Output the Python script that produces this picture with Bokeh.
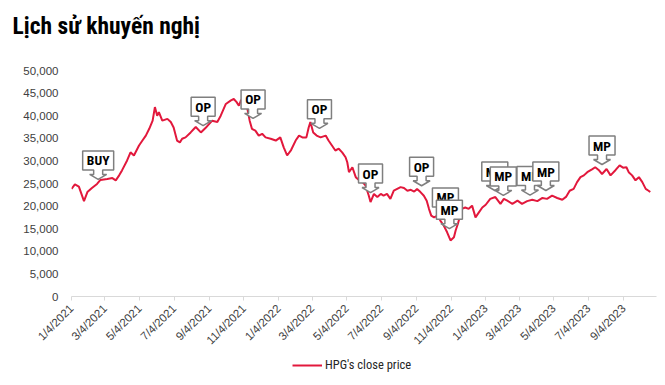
import math
import pandas as pd
from bokeh.plotting import figure
from bokeh.layouts import column
from bokeh.models import (ColumnDataSource, FixedTicker, NumeralTickFormatter, Range1d,
                          Legend, LegendItem, Title)
from bokeh.core.properties import value
from bokeh.embed import file_html
from bokeh.resources import INLINE

# ---------------- data ----------------
dates = [
    "2021-01-04", "2021-01-10", "2021-01-17", "2021-01-26", "2021-02-01", "2021-02-09",
    "2021-02-18", "2021-02-24", "2021-03-08", "2021-03-17", "2021-03-23", "2021-03-29",
    "2021-04-03", "2021-04-12", "2021-04-18", "2021-04-24", "2021-05-03", "2021-05-09",
    "2021-05-15", "2021-05-21", "2021-05-27", "2021-05-31", "2021-06-04", "2021-06-07",
    "2021-06-13", "2021-06-22", "2021-06-28", "2021-07-03", "2021-07-09", "2021-07-14",
    "2021-07-18", "2021-07-24", "2021-08-02", "2021-08-08", "2021-08-11", "2021-08-20",
    "2021-08-29", "2021-09-01", "2021-09-09", "2021-09-18", "2021-09-24", "2021-10-03",
    "2021-10-12", "2021-10-17", "2021-10-22", "2021-10-26", "2021-10-30", "2021-11-04",
    "2021-11-10", "2021-11-14", "2021-11-18", "2021-11-24", "2021-11-30", "2021-12-06",
    "2021-12-12", "2021-12-21", "2021-12-30", "2022-01-07", "2022-01-13", "2022-01-19",
    "2022-01-26", "2022-02-03", "2022-02-09", "2022-02-15", "2022-02-22", "2022-02-26",
    "2022-03-01", "2022-03-06", "2022-03-12", "2022-03-19", "2022-03-28", "2022-04-02",
    "2022-04-08", "2022-04-14", "2022-04-20", "2022-04-26", "2022-05-02", "2022-05-05",
    "2022-05-08", "2022-05-14", "2022-05-20", "2022-05-26", "2022-06-01", "2022-06-06",
    "2022-06-12", "2022-06-15", "2022-06-21", "2022-06-27", "2022-07-03", "2022-07-08",
    "2022-07-14", "2022-07-20", "2022-07-26", "2022-08-01", "2022-08-07", "2022-08-13",
    "2022-08-19", "2022-08-25", "2022-08-31", "2022-09-05", "2022-09-11", "2022-09-17",
    "2022-09-22", "2022-09-26", "2022-09-30", "2022-10-05", "2022-10-11", "2022-10-16",
    "2022-10-22", "2022-10-28", "2022-11-03", "2022-11-09", "2022-11-12", "2022-11-16",
    "2022-11-19", "2022-11-23", "2022-11-29", "2022-12-05", "2022-12-11", "2022-12-17",
    "2022-12-23", "2022-12-29", "2023-01-04", "2023-01-12", "2023-01-21", "2023-01-30",
    "2023-02-05", "2023-02-11", "2023-02-20", "2023-03-01", "2023-03-09", "2023-03-18",
    "2023-03-27", "2023-04-05", "2023-04-14", "2023-04-22", "2023-05-01", "2023-05-10",
    "2023-05-19", "2023-05-26", "2023-06-01", "2023-06-08", "2023-06-14", "2023-06-20",
    "2023-06-26", "2023-07-02", "2023-07-11", "2023-07-16", "2023-07-22", "2023-07-28",
    "2023-08-05", "2023-08-12", "2023-08-21", "2023-08-28", "2023-09-03", "2023-09-09",
    "2023-09-13", "2023-09-19", "2023-09-25", "2023-10-01", "2023-10-07", "2023-10-13",
    "2023-10-18", "2023-10-21",
]
prices = [
    23800, 24800, 24300, 21100, 23100, 24000,
    24900, 25800, 26000, 26200, 25700, 26800,
    27900, 30100, 31900, 31200, 33400, 34500,
    35600, 37100, 38900, 41900, 40000, 40800,
    38900, 39300, 38600, 37400, 34500, 34100,
    34900, 35200, 36300, 37100, 37500, 36300,
    37400, 37800, 38900, 38600, 40000, 42600,
    43400, 43700, 43000, 42200, 43500, 42600,
    41500, 38900, 37100, 36700, 35600, 36000,
    35200, 34900, 34500, 35200, 33000, 31200,
    32400, 34500, 35600, 35200, 35200, 37400,
    38600, 36300, 35600, 35200, 35600, 34500,
    33400, 32300, 32700, 31900, 30800, 29700,
    27500, 28600, 26400, 25700, 25300, 24600,
    22300, 20900, 22700, 22000, 22700, 22300,
    22700, 21600, 23400, 23800, 24200, 24000,
    23400, 23600, 23200, 23800, 23100, 22300,
    21200, 19400, 17900, 17500, 17900, 16800,
    15700, 14200, 12400, 13100, 14600, 16100,
    17500, 19400, 19700, 19400, 20100, 17500,
    18600, 19700, 20300, 21600, 22000, 20500,
    21600, 21200, 20500, 21200, 20500, 21100,
    21400, 21100, 21800, 21600, 22300, 21800,
    21400, 22100, 23400, 23800, 25300, 26400,
    26800, 27500, 28200, 28600, 28000, 27100,
    28200, 26800, 28000, 29000, 28500, 28600,
    27500, 26800, 25700, 26400, 25300, 23800,
    23400, 23100,
]

tick_labels = ["1/4/2021", "3/4/2021", "5/4/2021", "7/4/2021", "9/4/2021", "11/4/2021",
               "1/4/2022", "3/4/2022", "5/4/2022", "7/4/2022", "9/4/2022", "11/4/2022",
               "1/4/2023", "3/4/2023", "5/4/2023", "7/4/2023", "9/4/2023"]
y_ticks = [0, 5000, 10000, 15000, 20000, 25000, 30000, 35000, 40000, 45000, 50000]

call_labels = ["BUY", "OP", "OP", "OP", "OP", "OP", "MP", "MP", "MP", "MP", "MP", "MP", "MP"]
call_dates = ["2021-02-20", "2021-08-24", "2021-11-20", "2022-03-17", "2022-06-15",
              "2022-09-13", "2022-10-25", "2022-11-01", "2023-01-20", "2023-02-04",
              "2023-03-23", "2023-04-20", "2023-07-28"]
call_values = [25900, 37800, 39400, 37200, 23000, 24500, 17700, 15000, 23450, 22350,
               22450, 23450, 29200]

series_name = "HPG's close price"
title_text = "Lịch sử khuyến nghị"

# ---------------- layout / style ----------------
COND = "Roboto Condensed, DejaVu Sans Condensed, Liberation Sans Narrow, Roboto, sans-serif"
AX_FONT = "Liberation Sans"
RED = "#E2183C"
LEFT, FW, RIGHT = 71, 585, 1
TOP, FH, BOTTOM = 70, 226, 62
W = LEFT + FW + RIGHT
LEG_H = 27
X_START, X_END = pd.Timestamp("2021-01-04"), pd.Timestamp("2023-11-01")
Y_START, Y_END = 0, 50000

def ms(s):
    return pd.Timestamp(s).value / 1e6

src = ColumnDataSource(dict(date=pd.to_datetime(dates), price=prices))

p = figure(frame_width=FW, frame_height=FH, x_axis_type="datetime",
           x_range=Range1d(X_START, X_END), y_range=Range1d(Y_START, Y_END),
           output_backend="svg", toolbar_location=None,
           min_border_left=LEFT, min_border_right=RIGHT,
           min_border_top=TOP, min_border_bottom=BOTTOM)
p.outline_line_color = None
p.grid.grid_line_color = None

line = p.line(x="date", y="price", source=src, line_color=RED, line_width=2)

# title (outermost) + an empty spacer title between it and the frame
p.title.text = title_text
p.title.align = "left"
p.title.offset = -59
p.title.standoff = 0
p.title.text_font = COND
p.title.text_font_style = "bold"
p.title.text_font_size = "23.5px"
p.title.text_color = "#000000"
p.add_layout(Title(text=" ", text_font_size="10px", standoff=18), "above")

# x axis
xa = p.xaxis[0]
tick_ms = [ms(pd.to_datetime(t, format="%m/%d/%Y")) for t in tick_labels]
xa.ticker = FixedTicker(ticks=tick_ms)
xa.major_label_overrides = {t: lab for t, lab in zip(tick_ms, tick_labels)}
xa.major_label_orientation = math.pi / 4
xa.axis_line_color = "#D9D9D9"
xa.major_tick_line_color = "#D9D9D9"
xa.major_tick_out = 4
xa.major_tick_in = 0
xa.minor_tick_line_color = None
xa.major_label_standoff = 6
xa.major_label_text_font = AX_FONT
xa.major_label_text_font_size = "11.5px"
xa.major_label_text_color = "#404040"

# y axis
ya = p.yaxis[0]
ya.ticker = FixedTicker(ticks=y_ticks)
ya.formatter = NumeralTickFormatter(format="0,0")
ya.axis_line_color = None
ya.major_tick_line_color = None
ya.minor_tick_line_color = None
ya.major_tick_out = 0
ya.major_label_standoff = 13
ya.major_label_text_font = AX_FONT
ya.major_label_text_font_size = "11.5px"
ya.major_label_text_color = "#404040"

# callouts (down-arrow callout boxes)
px_x = (ms(X_END) - ms(X_START)) / FW
px_y = (Y_END - Y_START) / FH
BOX_W = {"BUY": 31, "OP": 24, "MP": 26}
BH, HEAD_H, STEM_H, HEAD_HW, STEM_HW = 19, 5, 4.5, 8.5, 4.5
for lab, d, v in zip(call_labels, call_dates, call_values):
    tx, ty = ms(d), v
    hw = BOX_W[lab] / 2
    pts = [(0, 0), (HEAD_HW, HEAD_H), (STEM_HW, HEAD_H), (STEM_HW, HEAD_H + STEM_H),
           (hw, HEAD_H + STEM_H), (hw, HEAD_H + STEM_H + BH), (-hw, HEAD_H + STEM_H + BH),
           (-hw, HEAD_H + STEM_H), (-STEM_HW, HEAD_H + STEM_H), (-STEM_HW, HEAD_H),
           (-HEAD_HW, HEAD_H)]
    xs = [tx + a * px_x for a, _ in pts]
    ys = [ty + b * px_y for _, b in pts]
    p.patch(xs, ys, fill_color="white", line_color="#7F7F7F", line_width=1.5)
    p.text(x=[tx], y=[ty + (HEAD_H + STEM_H + BH / 2) * px_y], text=[lab],
           text_font=value(COND), text_font_style="bold", text_font_size="13.5px",
           text_align="center", text_baseline="middle", text_color="#000000")

# legend strip under the chart (same series, ranged out of view, so only its key shows)
pl = figure(frame_width=W, frame_height=LEG_H, output_backend="svg", toolbar_location=None,
            x_range=Range1d(X_START, X_END), y_range=Range1d(-2, -1),
            x_axis_location=None, y_axis_location=None,
            min_border_left=0, min_border_right=0, min_border_top=0, min_border_bottom=0)
pl.outline_line_color = None
pl.grid.grid_line_color = None
leg_line = pl.line(x="date", y="price", source=src, line_color=RED, line_width=2)
legend = Legend(items=[LegendItem(label=series_name, renderers=[leg_line])],
                location=(292, LEG_H - 14), orientation="horizontal",
                border_line_color=None, background_fill_alpha=0,
                padding=0, margin=0, spacing=0, glyph_width=30, glyph_height=14,
                label_height=14, label_standoff=3,
                label_text_font=COND, label_text_font_size="12.5px",
                label_text_color="#262626")
pl.add_layout(legend)

layout = column(p, pl, spacing=0)
open("out.html", "w").write(file_html(layout, INLINE))
